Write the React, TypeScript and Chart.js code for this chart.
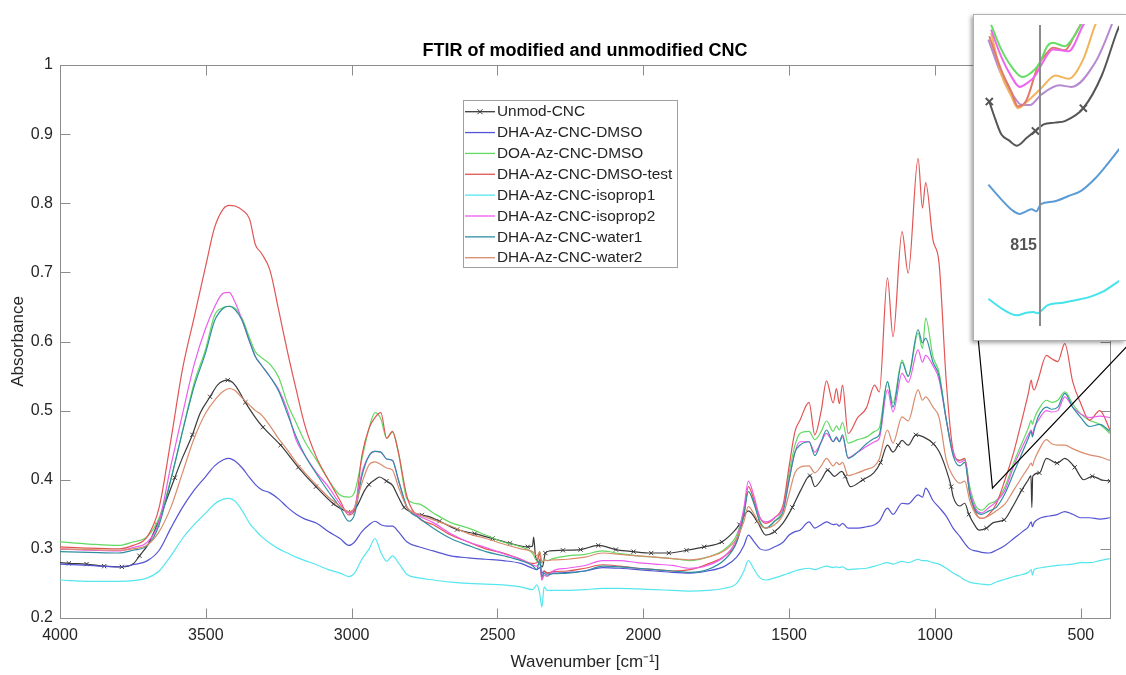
import React, { useEffect, useRef } from "react";
import { Chart, registerables } from "chart.js";

Chart.register(...registerables);

const FONT = '"Liberation Sans", Arial, Helvetica, sans-serif';

// ---------- text ----------
const chartTitle = "FTIR of modified and unmodified CNC";
const xAxisTitle = "Wavenumber [cm\u207B\u00B9]";
const yAxisTitle = "Absorbance";
const insetLabel = "815";

// ---------- axes ----------
const xTickValues = [4000, 3500, 3000, 2500, 2000, 1500, 1000, 500];
const yTickValues = [0.2, 0.3, 0.4, 0.5, 0.6, 0.7, 0.8, 0.9, 1];

// ---------- series ----------
const seriesLabels = [
  "Unmod-CNC",
  "DHA-Az-CNC-DMSO",
  "DOA-Az-CNC-DMSO",
  "DHA-Az-CNC-DMSO-test",
  "DHA-Az-CNC-isoprop1",
  "DHA-Az-CNC-isoprop2",
  "DHA-Az-CNC-water1",
  "DHA-Az-CNC-water2",
];

// Unmod-CNC (own sampling, markers every ~60 cm-1)
const unmodWn = [
  4000, 3969.5, 3909, 3848.5, 3788, 3750, 3727.5, 3700, 3667, 3640,
  3606.5, 3580, 3546, 3520, 3485.5, 3460, 3425, 3400, 3364.5, 3330,
  3304, 3243.5, 3183, 3122.5, 3062, 3022, 3001.5, 2983, 2955, 2941,
  2920, 2905, 2880.5, 2860, 2840, 2820, 2800, 2759.5, 2737, 2699,
  2638.5, 2578, 2517.5, 2457, 2396.5, 2380, 2376, 2370, 2358, 2346,
  2336, 2320, 2275.5, 2215, 2154.5, 2094, 2033.5, 1973, 1912.5, 1852,
  1791.5, 1731, 1690, 1670.5, 1640, 1610, 1580, 1549.5, 1520, 1489,
  1460, 1428.5, 1412, 1390, 1368, 1345, 1320, 1307.5, 1290, 1247,
  1210, 1186.5, 1163, 1144, 1126, 1113, 1092, 1065.5, 1040, 1005,
  985, 961, 944.5, 938, 915, 898, 884, 865, 849, 823.5,
  800, 763, 735, 702.5, 680, 671, 668, 665, 642, 618,
  581.5, 555, 521, 490, 460.5, 430, 400,
];
const unmodAbs = [
  0.28, 0.279, 0.278, 0.275, 0.274, 0.278, 0.29, 0.305, 0.335, 0.365,
  0.403, 0.432, 0.465, 0.496, 0.52, 0.537, 0.544, 0.537, 0.512, 0.49,
  0.476, 0.45, 0.418, 0.39, 0.365, 0.355, 0.353, 0.361, 0.385, 0.393,
  0.4, 0.404, 0.398, 0.392, 0.375, 0.36, 0.354, 0.349, 0.347, 0.34,
  0.328, 0.322, 0.315, 0.308, 0.303, 0.304, 0.317, 0.29, 0.28, 0.274,
  0.294, 0.297, 0.298, 0.299, 0.305, 0.299, 0.296, 0.294, 0.294, 0.298,
  0.303, 0.31, 0.325, 0.335, 0.355, 0.34, 0.32, 0.325, 0.338, 0.36,
  0.385, 0.406, 0.39, 0.4, 0.414, 0.405, 0.412, 0.405, 0.39, 0.4,
  0.41, 0.425, 0.45, 0.44, 0.45, 0.457, 0.45, 0.465, 0.462, 0.452,
  0.44, 0.414, 0.39, 0.376, 0.362, 0.366, 0.35, 0.335, 0.327, 0.33,
  0.338, 0.342, 0.36, 0.385, 0.4, 0.406, 0.36, 0.405, 0.41, 0.431,
  0.424, 0.431, 0.418, 0.4, 0.405, 0.4, 0.398,
];
const unmodMarkerWn = [
  3969.5, 3909, 3848.5, 3788, 3727.5, 3667, 3606.5, 3546, 3485.5, 3425,
  3364.5, 3304, 3243.5, 3183, 3122.5, 3062, 3001.5, 2941, 2880.5, 2820,
  2759.5, 2699, 2638.5, 2578, 2517.5, 2457, 2396.5, 2336, 2275.5, 2215,
  2154.5, 2094, 2033.5, 1973, 1912.5, 1852, 1791.5, 1731, 1670.5, 1610,
  1549.5, 1489, 1428.5, 1368, 1307.5, 1247, 1186.5, 1126, 1065.5, 1005,
  944.5, 884, 823.5, 763, 702.5, 642, 581.5, 521, 460.5, 400,
];

// shared sampling for the modified samples
const wavenumbers = [
  4000, 3900, 3800, 3750, 3700, 3660, 3620, 3580, 3540, 3500,
  3470, 3440, 3420, 3400, 3375, 3350, 3330, 3310, 3280, 3250,
  3220, 3190, 3160, 3120, 3080, 3040, 3010, 2990, 2965, 2940,
  2920, 2900, 2880, 2860, 2840, 2810, 2770, 2720, 2660, 2600,
  2540, 2480, 2420, 2380, 2365, 2355, 2348, 2340, 2330, 2310,
  2260, 2200, 2140, 2080, 2020, 1960, 1900, 1840, 1780, 1720,
  1680, 1655, 1640, 1620, 1600, 1580, 1550, 1520, 1500, 1480,
  1463, 1432, 1412, 1390, 1372, 1349, 1338, 1328, 1317, 1298,
  1265, 1235, 1207, 1191, 1163, 1144, 1113, 1092, 1058, 1043,
  1032, 1007, 986, 961, 938, 915, 898, 881, 860, 840,
  815, 790, 760, 730, 700, 680, 670, 666, 660, 647,
  618, 600, 579, 555, 528, 500, 470, 435, 400,
];

const dhaDmsoAbs = [
  0.278, 0.276, 0.274, 0.277, 0.283, 0.298, 0.33, 0.36, 0.385, 0.405,
  0.42, 0.429, 0.431, 0.427, 0.417, 0.403, 0.393, 0.386, 0.381, 0.372,
  0.36, 0.35, 0.343, 0.337, 0.325, 0.315, 0.305, 0.31, 0.325, 0.335,
  0.34, 0.335, 0.333, 0.333, 0.325, 0.31, 0.303, 0.297, 0.29, 0.287,
  0.285, 0.283, 0.279, 0.272, 0.27, 0.273, 0.265, 0.268, 0.265, 0.265,
  0.266, 0.268, 0.273, 0.272, 0.27, 0.268, 0.266, 0.265, 0.268, 0.275,
  0.288, 0.305, 0.32, 0.31, 0.3, 0.298, 0.303, 0.31, 0.32, 0.325,
  0.327, 0.339, 0.33, 0.335, 0.339, 0.335, 0.336, 0.333, 0.337, 0.33,
  0.33, 0.332, 0.335, 0.34, 0.359, 0.35, 0.366, 0.365, 0.378, 0.375,
  0.388, 0.37, 0.36, 0.347, 0.33, 0.318, 0.308, 0.3, 0.297, 0.295,
  0.294, 0.298, 0.305, 0.315, 0.325, 0.332, 0.339, 0.332, 0.338, 0.343,
  0.347, 0.348, 0.35, 0.354, 0.35, 0.345, 0.345, 0.343, 0.345,
];

const doaDmsoAbs = [
  0.31, 0.307, 0.305, 0.31, 0.318, 0.345, 0.4, 0.47, 0.54, 0.59,
  0.638, 0.649, 0.651, 0.648, 0.633, 0.605, 0.585, 0.577, 0.567, 0.548,
  0.51, 0.482, 0.455, 0.428, 0.4, 0.378, 0.375, 0.382, 0.43, 0.475,
  0.497, 0.488, 0.46, 0.469, 0.44, 0.372, 0.365, 0.352, 0.338, 0.33,
  0.32, 0.31, 0.303, 0.294, 0.283, 0.296, 0.28, 0.285, 0.283, 0.286,
  0.29, 0.292, 0.297, 0.293, 0.29, 0.288, 0.286, 0.283, 0.288, 0.3,
  0.32, 0.355, 0.383, 0.365, 0.34, 0.33, 0.34, 0.36, 0.41, 0.45,
  0.467, 0.47, 0.458, 0.47, 0.485, 0.47, 0.478, 0.472, 0.483, 0.453,
  0.458, 0.462, 0.47, 0.475, 0.542, 0.511, 0.573, 0.549, 0.612, 0.59,
  0.634, 0.578, 0.555, 0.486, 0.438, 0.428, 0.43, 0.39, 0.362, 0.356,
  0.365, 0.37, 0.39, 0.425, 0.455, 0.475, 0.486, 0.48, 0.488, 0.5,
  0.515, 0.512, 0.515, 0.527, 0.51, 0.495, 0.486, 0.48, 0.467,
];

const dhaDmsoTestAbs = [
  0.303, 0.301, 0.3, 0.305, 0.318, 0.36, 0.457, 0.56, 0.635, 0.71,
  0.765, 0.792, 0.797, 0.796, 0.79, 0.777, 0.74, 0.728, 0.703, 0.645,
  0.585, 0.53, 0.478, 0.432, 0.4, 0.37, 0.349, 0.355, 0.435, 0.475,
  0.49, 0.497, 0.46, 0.47, 0.44, 0.375, 0.345, 0.335, 0.32, 0.31,
  0.3, 0.294, 0.285, 0.279, 0.28, 0.294, 0.255, 0.268, 0.265, 0.267,
  0.268, 0.272, 0.277, 0.275, 0.272, 0.27, 0.268, 0.27, 0.278, 0.29,
  0.31, 0.35, 0.39, 0.37, 0.345, 0.337, 0.345, 0.365, 0.42, 0.47,
  0.486, 0.512, 0.465, 0.5, 0.543, 0.511, 0.532, 0.51, 0.537, 0.467,
  0.49, 0.504, 0.537, 0.527, 0.692, 0.607, 0.759, 0.699, 0.865, 0.793,
  0.83, 0.747, 0.713, 0.54, 0.443, 0.428, 0.431, 0.381, 0.352, 0.344,
  0.35, 0.365, 0.4, 0.44, 0.49, 0.525, 0.544, 0.535, 0.53, 0.544,
  0.58, 0.575, 0.571, 0.597, 0.542, 0.51, 0.486, 0.5, 0.472,
];

const dhaIsoprop1Abs = [
  0.255, 0.253, 0.253, 0.254, 0.258, 0.268, 0.29, 0.315, 0.335, 0.352,
  0.365, 0.372, 0.373, 0.369, 0.355, 0.337, 0.327, 0.318, 0.308, 0.3,
  0.294, 0.288, 0.283, 0.277, 0.27, 0.265, 0.26, 0.265, 0.285, 0.3,
  0.315, 0.295, 0.282, 0.29, 0.28, 0.263, 0.258, 0.255, 0.252, 0.25,
  0.249, 0.248, 0.245, 0.241, 0.248, 0.235, 0.216, 0.245, 0.24, 0.24,
  0.24, 0.241, 0.243, 0.243, 0.242, 0.241, 0.24, 0.239, 0.24, 0.243,
  0.25, 0.268, 0.283, 0.27, 0.258, 0.255, 0.258, 0.262, 0.265, 0.268,
  0.27, 0.272, 0.27, 0.273, 0.275, 0.273, 0.274, 0.273, 0.274, 0.27,
  0.271, 0.272, 0.275, 0.277, 0.28, 0.278, 0.282, 0.28, 0.285, 0.283,
  0.283, 0.28, 0.278, 0.272, 0.265, 0.26, 0.255, 0.252, 0.25, 0.249,
  0.248, 0.252, 0.256, 0.26, 0.263, 0.266, 0.27, 0.262, 0.27, 0.272,
  0.274, 0.275, 0.276, 0.277, 0.278, 0.28, 0.28, 0.283, 0.286,
];

const dhaIsoprop2Abs = [
  0.3, 0.298, 0.297, 0.302, 0.31, 0.34, 0.42, 0.495, 0.567, 0.62,
  0.65, 0.67, 0.671, 0.657, 0.63, 0.6, 0.578, 0.566, 0.549, 0.53,
  0.5, 0.457, 0.435, 0.41, 0.39, 0.365, 0.352, 0.36, 0.41, 0.435,
  0.441, 0.44, 0.43, 0.428, 0.4, 0.36, 0.348, 0.338, 0.322, 0.31,
  0.302, 0.293, 0.285, 0.277, 0.275, 0.28, 0.255, 0.262, 0.26, 0.268,
  0.272, 0.276, 0.283, 0.283, 0.28, 0.278, 0.276, 0.272, 0.276, 0.29,
  0.315, 0.36, 0.398, 0.375, 0.345, 0.339, 0.345, 0.36, 0.4, 0.44,
  0.455, 0.455, 0.44, 0.455, 0.467, 0.455, 0.46, 0.455, 0.462, 0.432,
  0.44, 0.448, 0.455, 0.46, 0.53, 0.498, 0.554, 0.541, 0.588, 0.57,
  0.58, 0.565, 0.545, 0.486, 0.44, 0.425, 0.428, 0.385, 0.358, 0.352,
  0.36, 0.368, 0.385, 0.42, 0.448, 0.465, 0.472, 0.465, 0.475, 0.485,
  0.5, 0.498, 0.5, 0.52, 0.505, 0.495, 0.49, 0.492, 0.49,
];

const dhaWater1Abs = [
  0.296, 0.295, 0.294, 0.298, 0.305, 0.335, 0.4, 0.47, 0.535, 0.585,
  0.63, 0.648, 0.651, 0.646, 0.63, 0.6, 0.578, 0.566, 0.549, 0.528,
  0.495, 0.462, 0.435, 0.408, 0.383, 0.36, 0.34, 0.35, 0.405, 0.435,
  0.441, 0.44, 0.43, 0.428, 0.4, 0.36, 0.345, 0.33, 0.315, 0.305,
  0.296, 0.29, 0.283, 0.276, 0.27, 0.285, 0.26, 0.265, 0.262, 0.264,
  0.265, 0.268, 0.275, 0.274, 0.272, 0.27, 0.268, 0.266, 0.27, 0.285,
  0.31, 0.35, 0.383, 0.365, 0.338, 0.33, 0.34, 0.355, 0.4, 0.44,
  0.45, 0.455, 0.435, 0.455, 0.472, 0.455, 0.462, 0.455, 0.465, 0.431,
  0.44, 0.452, 0.46, 0.465, 0.542, 0.505, 0.57, 0.55, 0.617, 0.598,
  0.605, 0.57, 0.55, 0.486, 0.435, 0.42, 0.425, 0.38, 0.355, 0.35,
  0.355, 0.36, 0.38, 0.41, 0.44, 0.46, 0.47, 0.462, 0.472, 0.49,
  0.505, 0.502, 0.505, 0.525, 0.505, 0.49, 0.477, 0.48, 0.47,
];

const dhaWater2Abs = [
  0.3, 0.299, 0.298, 0.3, 0.306, 0.325, 0.36, 0.41, 0.46, 0.497,
  0.515, 0.528, 0.532, 0.529, 0.518, 0.508, 0.5, 0.494, 0.478, 0.459,
  0.443, 0.425, 0.41, 0.392, 0.375, 0.362, 0.354, 0.36, 0.395, 0.422,
  0.426, 0.422, 0.417, 0.414, 0.39, 0.36, 0.35, 0.342, 0.333, 0.322,
  0.315, 0.307, 0.3, 0.296, 0.29, 0.296, 0.28, 0.284, 0.283, 0.284,
  0.285, 0.288, 0.294, 0.292, 0.29, 0.288, 0.286, 0.284, 0.288, 0.298,
  0.315, 0.34, 0.361, 0.35, 0.335, 0.33, 0.335, 0.35, 0.38, 0.41,
  0.418, 0.42, 0.41, 0.42, 0.431, 0.42, 0.425, 0.422, 0.425, 0.406,
  0.41, 0.415, 0.42, 0.43, 0.472, 0.453, 0.491, 0.485, 0.53, 0.515,
  0.52, 0.505, 0.49, 0.428, 0.405, 0.395, 0.398, 0.37, 0.35, 0.344,
  0.348, 0.355, 0.365, 0.385, 0.405, 0.418, 0.424, 0.42, 0.428, 0.44,
  0.458, 0.452, 0.45, 0.45, 0.445, 0.44, 0.436, 0.433, 0.428,
];

// zoom call-out target on the main plot
const calloutWn = 803;
const calloutAbs = 0.388;

// ---------- inset (zoom around 815 cm-1) ----------
const insetMarkWn = 815;
const insetGreenWn = [868, 857, 845, 834, 824, 816, 807, 801, 788, 778, 771, 764];
const insetGreenAbs = [0.3806, 0.3694, 0.361, 0.3568, 0.359, 0.3627, 0.3709, 0.3724, 0.3709, 0.3754, 0.3806, 0.386];
const insetMagentaWn = [868, 857, 846, 837, 829, 820, 814, 801, 784, 768, 760];
const insetMagentaAbs = [0.3784, 0.366, 0.357, 0.3523, 0.354, 0.3575, 0.362, 0.3694, 0.3686, 0.3806, 0.386];
const insetRedWn = [870, 857, 846, 839, 830, 817, 807, 801, 788, 778, 768];
const insetRedAbs = [0.3754, 0.36, 0.35, 0.3434, 0.346, 0.362, 0.368, 0.3702, 0.369, 0.3754, 0.383];
const insetOrangeWn = [868, 857, 846, 839, 829, 814, 798, 784, 768, 755, 748];
const insetOrangeAbs = [0.3769, 0.358, 0.348, 0.3426, 0.3456, 0.3516, 0.3575, 0.356, 0.365, 0.3806, 0.386];
const insetPurpleWn = [871, 857, 845, 835, 826, 814, 794, 781, 755, 738, 733];
const insetPurpleAbs = [0.3739, 0.358, 0.349, 0.3441, 0.344, 0.3486, 0.353, 0.3523, 0.3635, 0.3798, 0.386];
const insetBlackWn = [870, 863, 857, 849, 840, 829, 820, 811, 799, 788, 768, 748, 732, 729];
const insetBlackAbs = [0.3456, 0.337, 0.3307, 0.328, 0.3255, 0.3292, 0.3322, 0.3352, 0.336, 0.3367, 0.3426, 0.3575, 0.3769, 0.38];
const insetBlackMarkerWn = [870, 820, 768];
const insetBlueWn = [871, 857, 845, 837, 830, 824, 819, 814, 800, 784, 770, 755, 742, 729];
const insetBlueAbs = [0.3077, 0.301, 0.296, 0.2943, 0.2955, 0.2965, 0.2955, 0.2988, 0.3, 0.3025, 0.305, 0.3106, 0.317, 0.324];
const insetCyanWn = [871, 856, 840, 830, 822, 818, 807, 790, 778, 760, 748, 729];
const insetCyanAbs = [0.2556, 0.251, 0.2481, 0.2492, 0.2496, 0.249, 0.2526, 0.2538, 0.2548, 0.2566, 0.2586, 0.2638];

// ---------- styles ----------
const seriesColors = ["#3a3a3a", "#5454d4", "#62d962", "#e25555", "#55e6ee", "#ee5cee", "#2f8fa0", "#d98c6c"];
const FRAME_COLOR = "#8c8c8c";
const TEXT_COLOR = "#262626";
const INSET = { left: 973, top: 14, width: 153, height: 327 };
const LEGEND = { left: 463, top: 100, width: 214, height: 167, row: 20.86, first: 11.7 };

const toPoints = (xs: number[], ys: number[]) => xs.map((x, i) => ({ x, y: ys[i] }));

function drawCross(ctx: CanvasRenderingContext2D, cx: number, cy: number, r: number) {
  ctx.beginPath();
  ctx.moveTo(cx - r, cy - r);
  ctx.lineTo(cx + r, cy + r);
  ctx.moveTo(cx - r, cy + r);
  ctx.lineTo(cx + r, cy - r);
  ctx.stroke();
}

const framePlugin = {
  id: "matlabFrame",
  beforeDatasetsDraw(chart: any) {
    const { ctx, chartArea: a, scales } = chart;
    const TL = 10;
    ctx.save();
    ctx.strokeStyle = FRAME_COLOR;
    ctx.lineWidth = 1;
    const L = Math.round(a.left) + 0.5;
    const R = Math.round(a.right) + 0.5;
    const T = Math.round(a.top) + 0.5;
    const B = Math.round(a.bottom) + 0.5;
    ctx.strokeRect(L, T, R - L, B - T);
    ctx.beginPath();
    for (const v of xTickValues) {
      const px = Math.round(scales.x.getPixelForValue(v)) + 0.5;
      ctx.moveTo(px, B);
      ctx.lineTo(px, B - TL);
      ctx.moveTo(px, T);
      ctx.lineTo(px, T + TL);
    }
    for (const v of yTickValues) {
      const py = Math.round(scales.y.getPixelForValue(v)) + 0.5;
      ctx.moveTo(L, py);
      ctx.lineTo(L + TL, py);
      ctx.moveTo(R, py);
      ctx.lineTo(R - TL, py);
    }
    ctx.stroke();
    ctx.restore();
  },
  afterDraw(chart: any) {
    const { ctx, chartArea: a, scales } = chart;
    ctx.save();
    // title
    ctx.fillStyle = "#000";
    ctx.font = `bold 18px ${FONT}`;
    ctx.textAlign = "center";
    ctx.textBaseline = "middle";
    ctx.fillText(chartTitle, (a.left + a.right) / 2, a.top - 14);

    // zoom call-out lines
    const ax = scales.x.getPixelForValue(calloutWn);
    const ay = scales.y.getPixelForValue(calloutAbs);
    ctx.strokeStyle = "#000";
    ctx.lineWidth = 1.2;
    ctx.beginPath();
    ctx.moveTo(INSET.left + 5, INSET.top + INSET.height - 4);
    ctx.lineTo(ax, ay);
    ctx.lineTo(INSET.left + 160, INSET.top + INSET.height - 1);
    ctx.stroke();

    // legend
    const g = LEGEND;
    ctx.fillStyle = "#fff";
    ctx.fillRect(g.left, g.top, g.width, g.height);
    ctx.strokeStyle = "#a0a0a0";
    ctx.lineWidth = 1;
    ctx.strokeRect(g.left + 0.5, g.top + 0.5, g.width, g.height);
    ctx.font = `15.4px ${FONT}`;
    ctx.textAlign = "left";
    ctx.textBaseline = "middle";
    chart.data.datasets.forEach((ds: any, i: number) => {
      const y = g.top + g.first + i * g.row;
      ctx.strokeStyle = ds.borderColor;
      ctx.lineWidth = 1.3;
      ctx.beginPath();
      ctx.moveTo(g.left + 2, y);
      ctx.lineTo(g.left + 32, y);
      ctx.stroke();
      if (i === 0) {
        ctx.lineWidth = 1;
        drawCross(ctx, g.left + 17, y, 2.5);
      }
      ctx.fillStyle = TEXT_COLOR;
      ctx.fillText(ds.label, g.left + 34, y + 0.5);
    });
    ctx.restore();
  },
};

const insetPlugin = {
  id: "insetMark",
  afterDatasetsDraw(chart: any) {
    const { ctx, chartArea: a, scales } = chart;
    const px = Math.round(scales.x.getPixelForValue(insetMarkWn));
    ctx.save();
    ctx.strokeStyle = "#8a8a8a";
    ctx.lineWidth = 2;
    ctx.beginPath();
    ctx.moveTo(px, a.top + 1);
    ctx.lineTo(px, a.bottom - 7);
    ctx.stroke();
    ctx.fillStyle = "#555";
    ctx.font = `bold 16px ${FONT}`;
    ctx.textAlign = "right";
    ctx.textBaseline = "middle";
    ctx.fillText(insetLabel, px - 3, a.bottom - 87);
    ctx.restore();
  },
};

export default function App() {
  const mainRef = useRef<HTMLCanvasElement>(null);
  const insetRef = useRef<HTMLCanvasElement>(null);

  useEffect(() => {
    document.body.style.margin = "0";
    document.body.style.overflow = "hidden";

    const markerSet = new Set(unmodMarkerWn);
    const modified = [dhaDmsoAbs, doaDmsoAbs, dhaDmsoTestAbs, dhaIsoprop1Abs, dhaIsoprop2Abs, dhaWater1Abs, dhaWater2Abs];

    const datasets: any[] = [
      {
        label: seriesLabels[0],
        data: toPoints(unmodWn, unmodAbs),
        borderColor: seriesColors[0],
        backgroundColor: seriesColors[0],
        borderWidth: 1.2,
        pointStyle: "crossRot",
        pointBorderColor: seriesColors[0],
        pointBorderWidth: 1,
        pointRadius: (c: any) => (c.raw && markerSet.has(c.raw.x) ? 3 : 0),
        order: 7,
      },
      ...modified.map((vals, k) => ({
        label: seriesLabels[k + 1],
        data: toPoints(wavenumbers, vals),
        borderColor: seriesColors[k + 1],
        backgroundColor: seriesColors[k + 1],
        borderWidth: 1.2,
        pointRadius: 0,
        order: 6 - k,
      })),
    ];

    const main = new Chart(mainRef.current!, {
      type: "line",
      data: { datasets },
      options: {
        responsive: false,
        animation: false,
        devicePixelRatio: 1,
        events: [],
        layout: { padding: { top: 65, right: 16, bottom: 0, left: 0 } },
        elements: { line: { cubicInterpolationMode: "monotone" } },
        plugins: { legend: { display: false }, title: { display: false }, tooltip: { enabled: false } },
        scales: {
          x: {
            type: "linear",
            reverse: true,
            min: 400,
            max: 4000,
            afterBuildTicks: (s: any) => {
              s.ticks = xTickValues.map((v) => ({ value: v }));
            },
            afterFit: (s: any) => {
              s.height = 57;
            },
            grid: { display: false, drawTicks: false },
            border: { display: false },
            ticks: {
              padding: 8,
              color: TEXT_COLOR,
              font: { family: FONT, size: 16 },
              maxRotation: 0,
              autoSkip: false,
              callback: (v: any) => String(v),
            },
            title: {
              display: true,
              text: xAxisTitle,
              color: TEXT_COLOR,
              font: { family: FONT, size: 17 },
              padding: { top: 0, bottom: 2 },
            },
          },
          y: {
            type: "linear",
            min: 0.2,
            max: 1,
            afterBuildTicks: (s: any) => {
              s.ticks = yTickValues.map((v) => ({ value: v }));
            },
            afterFit: (s: any) => {
              s.width = 60;
            },
            grid: { display: false, drawTicks: false },
            border: { display: false },
            ticks: {
              padding: 7,
              color: TEXT_COLOR,
              font: { family: FONT, size: 16 },
              autoSkip: false,
              callback: (v: any) => (Number(v) === 1 ? "1" : Number(v).toFixed(1)),
            },
            title: {
              display: true,
              text: yAxisTitle,
              color: TEXT_COLOR,
              font: { family: FONT, size: 17 },
              padding: { top: 8, bottom: 0 },
            },
          },
        },
      } as any,
      plugins: [framePlugin],
    });

    const insetMarkers = new Set(insetBlackMarkerWn);
    const insetSeries = [
      { xs: insetGreenWn, ys: insetGreenAbs, color: "#66dd66" },
      { xs: insetMagentaWn, ys: insetMagentaAbs, color: "#ee66ee" },
      { xs: insetRedWn, ys: insetRedAbs, color: "#e07a6a" },
      { xs: insetOrangeWn, ys: insetOrangeAbs, color: "#f2b45a" },
      { xs: insetPurpleWn, ys: insetPurpleAbs, color: "#b68ad0" },
      { xs: insetBlueWn, ys: insetBlueAbs, color: "#5b9bd5" },
      { xs: insetCyanWn, ys: insetCyanAbs, color: "#45e3ec" },
    ];
    const inset = new Chart(insetRef.current!, {
      type: "line",
      data: {
        datasets: [
          ...insetSeries.map((s) => ({
            data: toPoints(s.xs, s.ys),
            borderColor: s.color,
            borderWidth: 2,
            pointRadius: 0,
          })),
          {
            data: toPoints(insetBlackWn, insetBlackAbs),
            borderColor: "#555555",
            borderWidth: 2,
            pointStyle: "crossRot",
            pointBorderColor: "#555555",
            pointBorderWidth: 2,
            pointRadius: (c: any) => (c.raw && insetMarkers.has(c.raw.x) ? 5 : 0),
          },
        ],
      },
      options: {
        responsive: false,
        animation: false,
        devicePixelRatio: 1,
        events: [],
        layout: { padding: { top: 9, right: 0, bottom: 0, left: 0 } },
        elements: { line: { cubicInterpolationMode: "monotone" } },
        plugins: { legend: { display: false }, title: { display: false }, tooltip: { enabled: false } },
        scales: {
          x: { type: "linear", reverse: true, min: 729.3, max: 879, display: false },
          y: { type: "linear", min: 0.24, max: 0.381, display: false },
        },
      } as any,
      plugins: [insetPlugin],
    });

    return () => {
      main.destroy();
      inset.destroy();
    };
  }, []);

  return (
    <div style={{ position: "relative", width: 1126, height: 675, background: "#fff", overflow: "hidden" }}>
      <canvas ref={mainRef} width={1126} height={675} style={{ position: "absolute", left: 0, top: 0 }} />
      <div
        style={{
          position: "absolute",
          left: INSET.left,
          top: INSET.top,
          width: INSET.width,
          height: INSET.height,
          boxSizing: "border-box",
          border: "1px solid #b0b0b0",
          borderRight: "none",
          background: "#fff",
          boxShadow: "-2px 2px 4px rgba(0,0,0,0.35)",
        }}
      >
        <canvas ref={insetRef} width={152} height={325} style={{ display: "block" }} />
      </div>
    </div>
  );
}
